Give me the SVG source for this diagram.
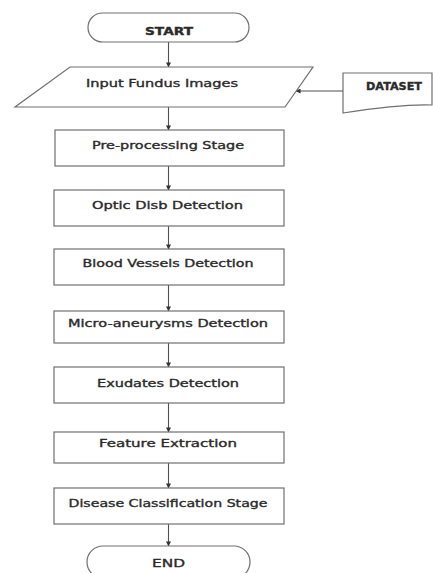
<svg xmlns="http://www.w3.org/2000/svg" width="433" height="573" viewBox="0 0 433 573">
  <style>
    .shape { fill: #ffffff; stroke: #707070; stroke-width: 1.2; }
    .label { font-family: "DejaVu Sans", "Liberation Sans", sans-serif; font-size: 10.5px; fill: #2a2a2a; stroke: #2a2a2a; stroke-width: 0.35; text-anchor: middle; }
    .conn { stroke: #505050; stroke-width: 1.1; fill: none; marker-end: url(#head); }
  </style>
  <defs>
    <marker id="head" viewBox="0 0 6 6" refX="5.5" refY="3" markerWidth="5" markerHeight="5" orient="auto" markerUnits="userSpaceOnUse">
      <path d="M0,0 L6,3 L0,6 Z" fill="#333333"/>
    </marker>
  </defs>
  <rect width="433" height="573" fill="#ffffff"/>

  <!-- flow connectors -->
  <g id="connectors">
    <line class="conn" x1="168.5" y1="42" x2="168.5" y2="67"/>
    <line class="conn" x1="168.5" y1="107" x2="168.5" y2="130"/>
    <line class="conn" x1="168.5" y1="166" x2="168.5" y2="190"/>
    <line class="conn" x1="168.5" y1="226" x2="168.5" y2="249"/>
    <line class="conn" x1="168.5" y1="285" x2="168.5" y2="311"/>
    <line class="conn" x1="168.5" y1="343" x2="168.5" y2="367"/>
    <line class="conn" x1="168.5" y1="403" x2="168.5" y2="432"/>
    <line class="conn" x1="168.5" y1="463" x2="168.5" y2="488"/>
    <line class="conn" x1="168.5" y1="524" x2="168.5" y2="546"/>
    <line class="conn" x1="343" y1="91" x2="296" y2="91"/>
  </g>

  <g id="start">
    <rect class="shape" x="88" y="13" width="161" height="29" rx="14.5" ry="14.5"/>
    <text class="label" x="169" y="35" textLength="48" lengthAdjust="spacingAndGlyphs" font-weight="bold">START</text>
  </g>

  <g id="input-images">
    <path class="shape" d="M70,67 L313,67 L285,107 L15,107 Z"/>
    <text class="label" x="162" y="87" textLength="152" lengthAdjust="spacingAndGlyphs">Input Fundus Images</text>
  </g>

  <g id="dataset">
    <path class="shape" d="M343,73 L432,73 L432,105 C405,104 375,108 343,113 Z"/>
    <text class="label" x="394" y="90" font-size="9" textLength="56" lengthAdjust="spacingAndGlyphs" font-weight="bold">DATASET</text>
  </g>

  <g id="preprocessing">
    <rect class="shape" x="55" y="130" width="229" height="36"/>
    <text class="label" x="168" y="149" textLength="152" lengthAdjust="spacingAndGlyphs">Pre-processing Stage</text>
  </g>

  <g id="optic-disc">
    <rect class="shape" x="54" y="190" width="230" height="36"/>
    <text class="label" x="167.5" y="209" textLength="151" lengthAdjust="spacingAndGlyphs">Optic Disb Detection</text>
  </g>

  <g id="blood-vessels">
    <rect class="shape" x="54" y="249" width="230" height="36"/>
    <text class="label" x="168" y="267" textLength="171" lengthAdjust="spacingAndGlyphs">Blood Vessels Detection</text>
  </g>

  <g id="micro-aneurysms">
    <rect class="shape" x="54" y="311" width="230" height="32"/>
    <text class="label" x="168" y="327" textLength="200" lengthAdjust="spacingAndGlyphs">Micro-aneurysms Detection</text>
  </g>

  <g id="exudates">
    <rect class="shape" x="54" y="367" width="230" height="36"/>
    <text class="label" x="168" y="387" textLength="142" lengthAdjust="spacingAndGlyphs">Exudates Detection</text>
  </g>

  <g id="feature-extraction">
    <rect class="shape" x="54" y="432" width="230" height="31"/>
    <text class="label" x="168" y="447" textLength="138" lengthAdjust="spacingAndGlyphs">Feature Extraction</text>
  </g>

  <g id="disease-classification">
    <rect class="shape" x="54" y="488" width="230" height="36"/>
    <text class="label" x="168" y="507" textLength="199" lengthAdjust="spacingAndGlyphs">Disease Classification Stage</text>
  </g>

  <g id="end">
    <rect class="shape" x="87" y="546" width="163" height="32" rx="16" ry="16"/>
    <text class="label" x="168.5" y="567" textLength="33" lengthAdjust="spacingAndGlyphs">END</text>
  </g>
</svg>
